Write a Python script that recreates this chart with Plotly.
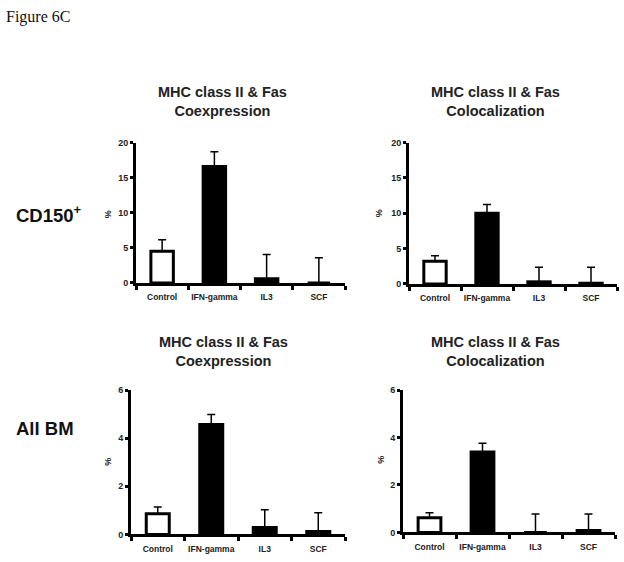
import plotly.graph_objects as go

W, H = 624, 562

categories = ["Control", "IFN-gamma", "IL3", "SCF"]

# Top row: CD150+
coexp_cd150 = [4.5, 16.6, 0.6, 0.0]
coexp_cd150_err = [1.65, 2.1, 3.45, 3.6]
coloc_cd150 = [3.2, 10.0, 0.3, 0.1]
coloc_cd150_err = [0.8, 1.25, 2.05, 2.25]

# Bottom row: All BM
coexp_allbm = [0.86, 4.57, 0.29, 0.12]
coexp_allbm_err = [0.28, 0.41, 0.73, 0.78]
coloc_allbm = [0.62, 3.39, 0.0, 0.08]
coloc_allbm_err = [0.21, 0.37, 0.78, 0.70]

yticks_top = [0, 5, 10, 15, 20]
yticks_bottom = [0, 2, 4, 6]

title_line1 = "MHC class II & Fas"
titles = ["Coexpression", "Colocalization", "Coexpression", "Colocalization"]
row_labels = ["CD150<sup>+</sup>", "All BM"]

def px(x):
    return x / W

def py(y):
    return 1 - y / H

# panel geometry (pixels)
panels = [
    dict(x0=136, x1=345, yt=140, yb=283, ymax=20, ticks=yticks_top,
         vals=coexp_cd150, err=coexp_cd150_err, tx=222, ty=98.5, pctx=108, pcty=213),
    dict(x0=409, x1=617, yt=140, yb=284, ymax=20, ticks=yticks_top,
         vals=coloc_cd150, err=coloc_cd150_err, tx=495, ty=98.5, pctx=379, pcty=212),
    dict(x0=131, x1=345, yt=392, yb=539, ymax=6, ticks=yticks_bottom,
         vals=coexp_allbm, err=coexp_allbm_err, tx=223, ty=352.5, pctx=108, pcty=465),
    dict(x0=403, x1=615, yt=392, yb=537, ymax=6, ticks=yticks_bottom,
         vals=coloc_allbm, err=coloc_allbm_err, tx=495, ty=352.5, pctx=381, pcty=463),
]

fig = go.Figure()
layout = dict(
    width=W, height=H, margin=dict(l=0, r=0, t=0, b=0),
    paper_bgcolor="white", plot_bgcolor="white", showlegend=False,
    font=dict(family="Liberation Sans, Arial, sans-serif", color="#222"),
)

annotations = []
for i, p in enumerate(panels):
    n = "" if i == 0 else str(i + 1)
    xa = "x" + n
    ya = "y" + n
    colors = ["white", "black", "black", "black"]
    fig.add_trace(go.Bar(
        x=categories, y=p["vals"], xaxis=xa, yaxis=ya,
        width=0.43,
        marker=dict(color=colors, line=dict(color="black", width=3)),
        error_y=dict(type="data", symmetric=False, array=p["err"],
                     arrayminus=[0, 0, 0, 0], color="black",
                     thickness=1.5, width=4),
        cliponaxis=False,
    ))
    layout["xaxis" + n] = dict(
        domain=[px(p["x0"]), px(p["x1"])], anchor=ya,
        showline=True, linecolor="black", linewidth=3,
        ticks="outside", tickson="boundaries", ticklen=4, tickwidth=3,
        tickcolor="black", showgrid=False, zeroline=False, tickangle=0,
        ticklabelstandoff=4,
        tickfont=dict(size=8.5, weight="bold", color="#222"),
        fixedrange=True,
    )
    layout["yaxis" + n] = dict(
        domain=[py(p["yb"]), py(p["yt"])], anchor=xa,
        range=[0, p["ymax"]], tickvals=p["ticks"],
        showline=True, linecolor="black", linewidth=3,
        ticks="outside", ticklen=3, tickwidth=3, tickcolor="black",
        showgrid=False, zeroline=False,
        tickfont=dict(size=9, weight="bold", color="#222"),
        fixedrange=True,
    )
    annotations.append(dict(
        text=title_line1 + "<br>" + titles[i], x=px(p["tx"]), y=py(p["ty"]),
        xref="paper", yref="paper", showarrow=False,
        xanchor="center", yanchor="middle",
        font=dict(size=14.5, weight="bold", color="#222"),
    ))
    annotations.append(dict(
        text="%", x=px(p["pctx"]), y=py(p["pcty"]),
        xref="paper", yref="paper", showarrow=False, textangle=-90,
        xanchor="center", yanchor="middle",
        font=dict(size=9, weight="bold", color="#222"),
    ))

annotations.append(dict(
    text=row_labels[0], x=px(14), y=py(213), xref="paper", yref="paper",
    showarrow=False, xanchor="left", yanchor="middle",
    font=dict(size=18.5, weight="bold", color="#111"),
))
annotations.append(dict(
    text=row_labels[1], x=px(14), y=py(431), xref="paper", yref="paper",
    showarrow=False, xanchor="left", yanchor="middle",
    font=dict(size=18.5, weight="bold", color="#111"),
))
annotations.append(dict(
    text="Figure 6C", x=px(4), y=py(12), xref="paper", yref="paper",
    showarrow=False, xanchor="left", yanchor="middle",
    font=dict(size=16, family="Liberation Serif, Times New Roman, serif",
              color="#111"),
))

layout["annotations"] = annotations
fig.update_layout(**layout)
fig.write_html("out.html", config={"displayModeBar": False},
               post_script="document.body.style.margin='0px';")
